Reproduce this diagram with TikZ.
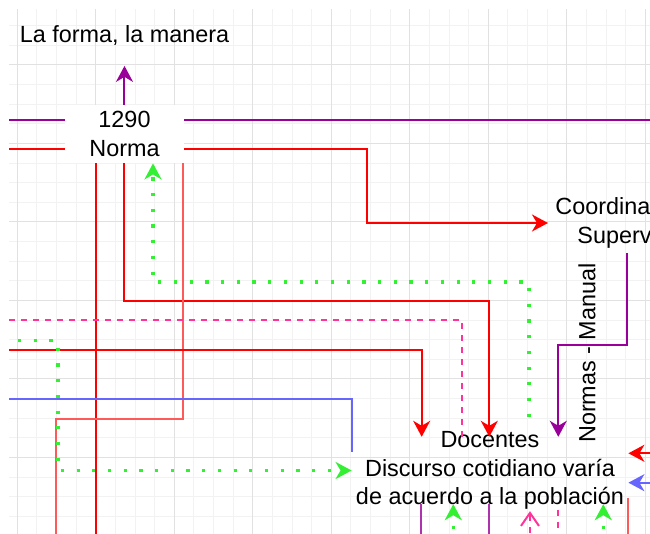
\documentclass[tikz,border=0pt]{standalone}
\usepackage{fontspec}
\setmainfont{Liberation Sans}
\usetikzlibrary{arrows.meta}

\definecolor{edgepurple}{RGB}{153,0,153}
\definecolor{edgered}{RGB}{255,0,0}
\definecolor{edgelightred}{RGB}{255,90,90}
\definecolor{edgepink}{RGB}{255,51,153}
\definecolor{edgegreen}{RGB}{51,240,51}
\definecolor{edgeblue}{RGB}{102,102,255}
\definecolor{gridminor}{RGB}{242,242,242}
\definecolor{gridmajor}{RGB}{225,225,225}

\tikzstyle{textonly}=[align=center, inner sep=0pt, text=black, font=\fontsize{11.7}{14.2}\selectfont]
\tikzstyle{whitebox}=[textonly, fill=white, minimum width=59.5pt, minimum height=29pt]
\tikzstyle{edge}=[line width=1pt]
\tikzstyle{dotedge}=[line width=1.6pt, dash pattern=on 1.6pt off 6.25pt, edgegreen]
\tikzstyle{dashedge}=[line width=1pt, dash pattern=on 3pt off 3pt, edgepink]
\tikzstyle{gridline}=[line width=0.5pt]

\begin{document}
\begin{tikzpicture}[x=0.5pt, y=-0.5pt, >={Stealth[length=8pt, width=8.5pt, inset=2.5pt]}]
  \useasboundingbox (0,0) rectangle (650,534);
  \clip (0,0) rectangle (650,534);

  % Grid
  \foreach \k in {0,...,32}
    \draw[gridline, gridminor] ({17.3+19.625*\k},9) -- ({17.3+19.625*\k},534);
  \foreach \k in {-2,...,23}
    \draw[gridline, gridminor] (9,{65+19.625*\k}) -- (650,{65+19.625*\k});
  \foreach \k in {0,4,...,32}
    \draw[gridline, gridmajor] ({17.3+19.625*\k},9) -- ({17.3+19.625*\k},534);
  \foreach \k in {0,4,...,20}
    \draw[gridline, gridmajor] (9,{65+19.625*\k}) -- (650,{65+19.625*\k});

  % Nodes
  \node (forma) [textonly, minimum width=59pt, minimum height=29.5pt] at (124.5,36) {La forma, la manera};
  \node (norma) [whitebox] at (124.5,134) {1290\\Norma};
  \node (coord) [textonly, align=left, anchor=west, inner xsep=3.5pt, minimum height=29.5pt] at (548,223) {Coordina\\\hspace*{11pt}Superv};
  \node (docentes) [textonly, inner ysep=-2.8pt, minimum width=138pt] at (490,470.5) {Docentes\\Discurso cotidiano varía\\de acuerdo a la población};
  \node (nrmlbl) [textonly, rotate=90] at (587,353) {Normas - Manual};

  % Bends and loose ends
  \coordinate (purL) at (9,120);    \coordinate (purR) at (660,120);
  \coordinate (redL) at (9,149);    \coordinate (redB) at (367,149);
  \coordinate (r1E) at (96,545);
  \coordinate (r2B) at (489.3,301.3);
  \coordinate (r3B) at (183,419.3); \coordinate (r3C) at (56,419.3); \coordinate (r3E) at (56,545);
  \coordinate (r4L) at (9,350.3);   \coordinate (r4B) at (421.7,350.3);
  \coordinate (pkL) at (9,320.3);   \coordinate (pkB) at (462.3,320.3);
  \coordinate (blL) at (9,399.3);
  \coordinate (g1A) at (529,282);   \coordinate (g1B) at (153,282);
  \coordinate (g2L) at (18,340.7);  \coordinate (g2B) at (58,340.7);
  \coordinate (p1A) at (627,345);   \coordinate (p1B) at (558.3,345);
  \coordinate (rdR) at (660,453.3); \coordinate (blR) at (660,482.7);
  \coordinate (pu1) at (420.7,545); \coordinate (pu2) at (489.3,545);
  \coordinate (gb1) at (453.3,545); \coordinate (gb2) at (603.3,545);
  \coordinate (pk1) at (530,545);   \coordinate (pk2) at (558.3,545);
  \coordinate (rdB) at (627.7,545);

  % Lines through the 1290 / Norma box
  \draw [edge, edgepurple, ->] (norma.north) -- (forma.south);
  \draw [edge, edgepurple] (purL) -- (norma.west |- purL);
  \draw [edge, edgepurple] (norma.east |- purL) -- (purR);
  \draw [edge, edgered] (redL) -- (norma.west |- redL);
  \draw [edge, edgered, ->] (norma.east |- redL) -- (redB) |- (coord.west);

  % Lines from Norma downwards
  \draw [edge, edgered] (norma.south -| r1E) -- (r1E);
  \draw [edge, edgered, ->] (norma.south) |- (r2B) -- (docentes.north -| r2B);
  \draw [edge, edgelightred] (norma.south -| r3B) -- (r3B) -- (r3C) -- (r3E);
  \draw [dotedge, ->, shorten <=10pt] (docentes.north -| g1A) -- (g1A) -- (g1B) -- (norma.south -| g1B);

  % Lines into Docentes
  \draw [edge, edgered, ->] (r4L) -| (docentes.north -| r4B);
  \draw [dashedge] (pkL) -| (docentes.north -| pkB);
  \draw [edge, edgeblue] (blL) -| ([yshift=-7.5pt]docentes.north west);
  \draw [dotedge, ->] (g2L) -- (g2B) |- (docentes.west);
  \draw [edge, edgepurple, ->] (coord.south -| p1A) -- (p1A) -- (p1B) -- (docentes.north -| p1B);
  \draw [edge, edgered, ->] (rdR) -- (docentes.east |- rdR);
  \draw [edge, edgeblue, ->] (blR) -- (docentes.east |- blR);

  % Lines below Docentes
  \draw [edge, edgepurple!80] (docentes.south -| pu1) -- (pu1);
  \draw [edge, edgepurple!80] (docentes.south -| pu2) -- (pu2);
  \draw [dotedge, ->] (gb1) -- (docentes.south -| gb1);
  \draw [dotedge, ->] (gb2) -- (docentes.south -| gb2);
  \draw [dashedge, -{Straight Barb[length=6.5pt, width=9pt]}] (pk1) -- ([yshift=-3.5pt]docentes.south -| pk1);
  \draw [dashedge] ([yshift=-3pt]docentes.south -| pk2) -- (pk2);
  \draw [edge, edgelightred] ([yshift=3pt]docentes.south -| rdB) -- (rdB);
\end{tikzpicture}
\end{document}
